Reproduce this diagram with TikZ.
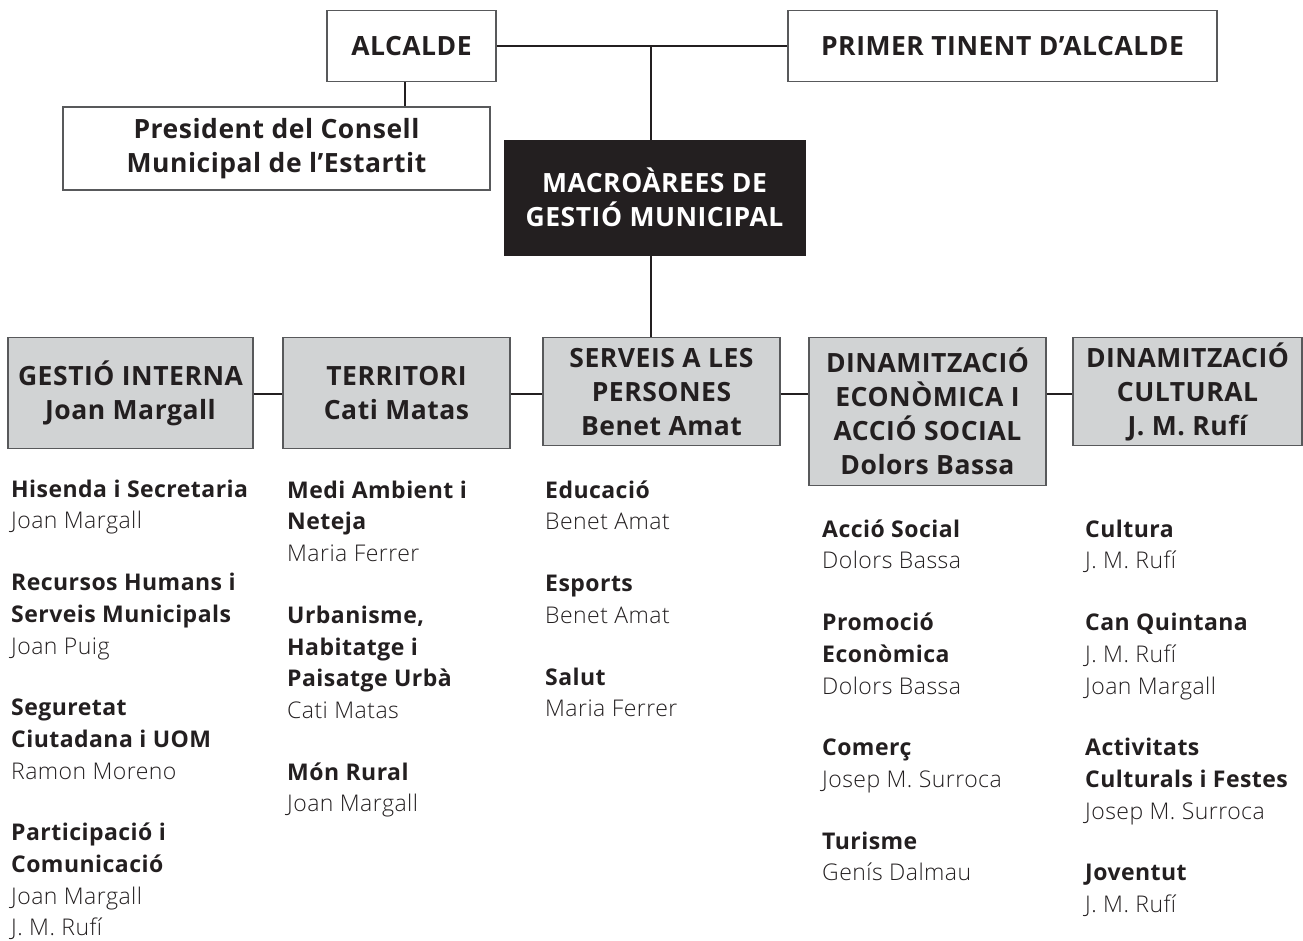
\documentclass[tikz,border=0pt]{standalone}
\usepackage{fontspec}
\setmainfont{Open Sans}[Ligatures=NoCommon, LetterSpace=2, UprightFont=* Light, BoldFont=* Bold]
\usetikzlibrary{positioning}

\definecolor{ink}{HTML}{231F20}
\definecolor{areagray}{HTML}{D1D3D4}
\definecolor{edge}{HTML}{58595B}

\tikzset{
  head/.style={font=\fontsize{26.5}{34}\selectfont\bfseries, align=center, text=ink},
  topbox/.style={head, draw=edge, line width=1.2pt, fill=white, inner sep=0pt},
  macrobox/.style={head, fill=ink, draw=ink, text=white, inner sep=0pt},
  areabox/.style={head, draw=edge, line width=1.2pt, fill=areagray, inner sep=0pt, anchor=north},
  duties/.style={font=\fontsize{23}{31.7}\selectfont, align=left, anchor=north west, inner sep=0pt, text=ink},
  link/.style={draw=ink, line width=2pt},
}
\newcommand{\firstline}{\rule{0pt}{24pt}}

\begin{document}
\begin{tikzpicture}[x=1pt,y=-1pt]
  \useasboundingbox (0,0) rectangle (1303,940);

  % top level
  \node[topbox, minimum width=169, minimum height=71] (alcalde) at (411.5,46) {ALCALDE};
  \node[topbox, minimum width=429, minimum height=71] (tinent) at (1002.5,46) {PRIMER TINENT D’ALCALDE};
  \node[topbox, minimum width=427, minimum height=83] (president) at (276.5,148.5)
    {President del Consell\\Municipal de l’Estartit};
  \node[macrobox, minimum width=301, minimum height=115] (macro) at (654.5,197.5)
    {MACROÀREES DE\\GESTIÓ MUNICIPAL};

  \coordinate (j1) at (651,46);
  \coordinate (hy) at (0,394);

  \draw[link] (alcalde.east) -- (tinent.west);
  \draw[link] (j1) -- (j1 |- macro.north);
  \draw[link] ([xshift=-6.5pt]alcalde.south) -- ([xshift=-6.5pt]alcalde.south |- president.north);

  % macro areas
  \node[areabox, minimum width=245, minimum height=111] (gestio) at (130.5,337)
    {GESTIÓ INTERNA\\Joan Margall};
  \node[areabox, minimum width=227, minimum height=111] (territori) at (396.5,337)
    {TERRITORI\\Cati Matas};
  \node[areabox, minimum width=237, minimum height=108] (serveis) at (661.5,337)
    {SERVEIS A LES\\PERSONES\\Benet Amat};
  \node[areabox, minimum width=237, minimum height=148] (economia) at (927.5,337)
    {DINAMITZACIÓ\\ECONÒMICA I\\ACCIÓ SOCIAL\\Dolors Bassa};
  \node[areabox, minimum width=229, minimum height=108] (cultura) at (1187.5,337)
    {DINAMITZACIÓ\\CULTURAL\\J. M. Rufí};

  \draw[link] (j1 |- macro.south) -- (j1 |- serveis.north);
  \draw[link] (gestio.east |- hy) -- (territori.west |- hy);
  \draw[link] (territori.east |- hy) -- (serveis.west |- hy);
  \draw[link] (serveis.east |- hy) -- (economia.west |- hy);
  \draw[link] (economia.east |- hy) -- (cultura.west |- hy);

  % responsibilities
  \node[duties] (llista1) at (11,473)
    {\firstline\textbf{Hisenda i Secretaria}\\Joan Margall\\[30pt]
     \textbf{Recursos Humans i}\\\textbf{Serveis Municipals}\\Joan Puig\\[30pt]
     \textbf{Seguretat}\\\textbf{Ciutadana i UOM}\\Ramon Moreno\\[30pt]
     \textbf{Participació i}\\\textbf{Comunicació}\\Joan Margall\\J. M. Rufí};
  \node[duties] (llista2) at (287,474)
    {\firstline\textbf{Medi Ambient i}\\\textbf{Neteja}\\Maria Ferrer\\[30pt]
     \textbf{Urbanisme,}\\\textbf{Habitatge i}\\\textbf{Paisatge Urbà}\\Cati Matas\\[30pt]
     \textbf{Món Rural}\\Joan Margall};
  \node[duties] (llista3) at (545,474)
    {\firstline\textbf{Educació}\\Benet Amat\\[30pt]
     \textbf{Esports}\\Benet Amat\\[30pt]
     \textbf{Salut}\\Maria Ferrer};
  \node[duties] (llista4) at (822,513)
    {\firstline\textbf{Acció Social}\\Dolors Bassa\\[30pt]
     \textbf{Promoció}\\\textbf{Econòmica}\\Dolors Bassa\\[30pt]
     \textbf{Comerç}\\Josep M. Surroca\\[30pt]
     \textbf{Turisme}\\Genís Dalmau};
  \node[duties] (llista5) at (1085,513)
    {\firstline\textbf{Cultura}\\J. M. Rufí\\[30pt]
     \textbf{Can Quintana}\\J. M. Rufí\\Joan Margall\\[30pt]
     \textbf{Activitats}\\\textbf{Culturals i Festes}\\Josep M. Surroca\\[30pt]
     \textbf{Joventut}\\J. M. Rufí};
\end{tikzpicture}
\end{document}
